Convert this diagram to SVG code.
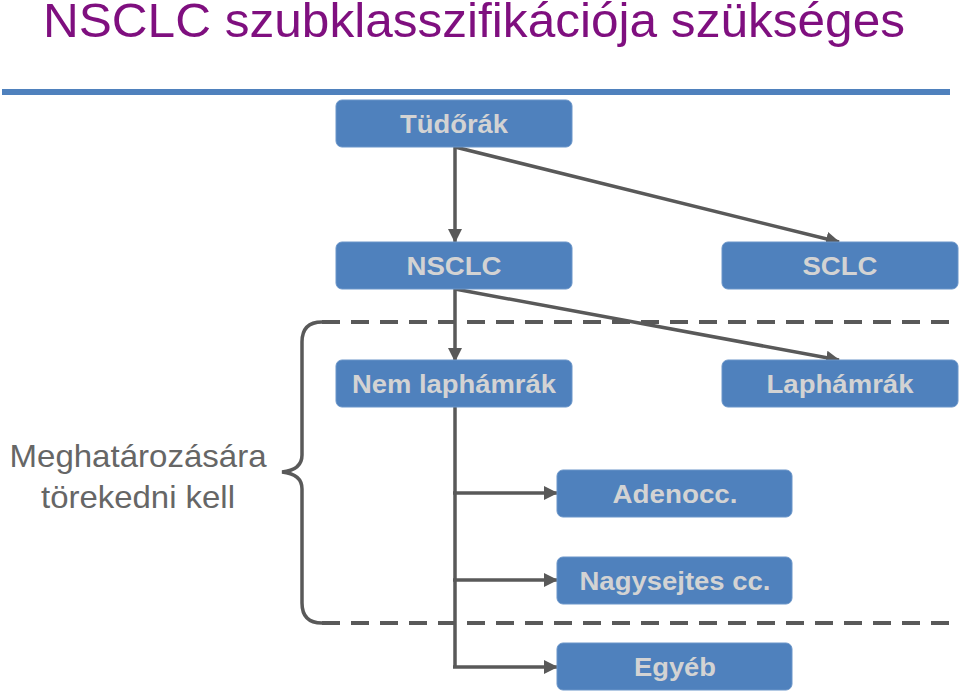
<svg xmlns="http://www.w3.org/2000/svg" width="960" height="694" viewBox="0 0 960 694">
<defs>
<style>
.node rect{fill:#4F81BD;stroke:#6A95C9;stroke-width:1}
.node text{font-family:"Liberation Sans",Arial,sans-serif;font-weight:bold;font-size:25px;fill:#D3D3D3;text-anchor:middle}
.conn{stroke:#595959;stroke-width:3.5;fill:none}
.dash{stroke:#595959;stroke-width:4;fill:none;stroke-dasharray:18 11}
</style>
<marker id="arrL" markerWidth="14" markerHeight="14" refX="13" refY="7" orient="auto" markerUnits="userSpaceOnUse" viewBox="0 0 14 14">
<path d="M0,0 L14,7 L0,14 z" fill="#595959"/>
</marker>
</defs>
<rect width="960" height="694" fill="#FFFFFF"/>
<text x="43" y="37" font-family="Liberation Sans, Arial, sans-serif" font-size="49" fill="#7F0F7F" textLength="862" lengthAdjust="spacingAndGlyphs">NSCLC szubklasszifikációja szükséges</text>
<rect x="2" y="89" width="948" height="6" fill="#4F81BD"/>
<g id="bracket">
<path class="conn" d="M322 322 Q302 322 302 342 L302 455 Q302 470 282 472 Q302 474 302 489 L302 603 Q302 623 322 623" stroke-width="4"/>
<path class="dash" d="M322 322 L960 322"/>
<path class="dash" d="M322 623 L960 623"/>
</g>
<g id="connectors">
<path class="conn" d="M455 147 L455 242" marker-end="url(#arrL)"/>
<path class="conn" d="M455 147 L839 242" marker-end="url(#arrL)"/>
<path class="conn" d="M455 289 L455 361" marker-end="url(#arrL)"/>
<path class="conn" d="M455 289 L839 360" marker-end="url(#arrL)"/>
<path class="conn" d="M455 407 L455 667"/>
<path class="conn" d="M453 493 L557 493" marker-end="url(#arrL)"/>
<path class="conn" d="M453 580 L557 580" marker-end="url(#arrL)"/>
<path class="conn" d="M453 667 L557 667" marker-end="url(#arrL)"/>
</g>
<g id="n-tudorak" class="node"><rect x="336" y="100" width="236" height="47" rx="6"/><text x="454" y="133" textLength="108" lengthAdjust="spacingAndGlyphs">Tüdőrák</text></g>
<g id="n-nsclc" class="node"><rect x="336" y="242" width="236" height="47" rx="6"/><text x="454" y="275" textLength="95" lengthAdjust="spacingAndGlyphs">NSCLC</text></g>
<g id="n-sclc" class="node"><rect x="722" y="242" width="236" height="47" rx="6"/><text x="840" y="275" textLength="75" lengthAdjust="spacingAndGlyphs">SCLC</text></g>
<g id="n-nemlaphamrak" class="node"><rect x="336" y="360" width="236" height="47" rx="6"/><text x="454" y="393" textLength="204" lengthAdjust="spacingAndGlyphs">Nem laphámrák</text></g>
<g id="n-laphamrak" class="node"><rect x="722" y="360" width="236" height="47" rx="6"/><text x="840" y="393" textLength="147" lengthAdjust="spacingAndGlyphs">Laphámrák</text></g>
<g id="n-adenocc" class="node"><rect x="557" y="470" width="235" height="47" rx="6"/><text x="675" y="503" textLength="125" lengthAdjust="spacingAndGlyphs">Adenocc.</text></g>
<g id="n-nagysejtes" class="node"><rect x="557" y="557" width="235" height="47" rx="6"/><text x="675" y="590" textLength="191" lengthAdjust="spacingAndGlyphs">Nagysejtes cc.</text></g>
<g id="n-egyeb" class="node"><rect x="557" y="643" width="235" height="47" rx="6"/><text x="675" y="676" textLength="82" lengthAdjust="spacingAndGlyphs">Egyéb</text></g>
<g id="label" font-family="Liberation Sans, Arial, sans-serif" font-size="32" fill="#666666" text-anchor="middle">
<text x="138" y="467" textLength="257" lengthAdjust="spacingAndGlyphs">Meghatározására</text>
<text x="138" y="508" textLength="194" lengthAdjust="spacingAndGlyphs">törekedni kell</text>
</g>
</svg>
